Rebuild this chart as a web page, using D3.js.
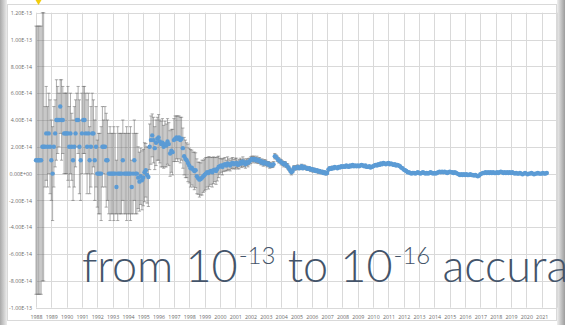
<!DOCTYPE html>
<html>
<head>
<meta charset="utf-8">
<script src="https://cdn.jsdelivr.net/npm/d3@7"></script>
<style>
  html, body { margin: 0; padding: 0; background: #fff; overflow: hidden; }
  svg { display: block; }
</style>
</head>
<body>
<svg id="chart" width="565" height="325"></svg>
<script>
// Monthly series starting January 1988; offsets and uncertainties in units of 1e-14.
const firstYear = 1988;
const gridYears = d3.range(1988, 2023);
const yearLabels = d3.range(1988, 2022).map(String);
const yTickValues = [12, 10, 8, 6, 4, 2, 0, -2, -4, -6, -8, -10];
const yTickLabels = ["1.20E-13", "1.00E-13", "8.00E-14", "6.00E-14", "4.00E-14", "2.00E-14",
  "0.00E+00", "-2.00E-14", "-4.00E-14", "-6.00E-14", "-8.00E-14", "-1.00E-13"];

const monthlyOffset = [
  /*1988*/ 1, 1, 1, 1, 1, 2, 2, 2, 3, 2, 3, 2,
  /*1989*/ 1, 0, 2, 3, 4, 4, 4, 5, 4, 4, 3, 3,
  /*1990*/ 3, 3, 2, 3, 2, 1, 2, 3, 4, 4, 2, 1,
  /*1991*/ 3, 4, 4, 3, 2, 3, 1, 2, 3, 3, 1, 2,
  /*1992*/ 0, 0, 0, 0, 2, 2, 2, 1, 1, 0, 0, 0,
  /*1993*/ 0, 0, 0, -1, 0, 0, 0, 0, 1, 0, 0, 0,
  /*1994*/ 0, 0, 0, -1, 0, 1, 0, 0, -0.3, -0.6, -0.2, -0.5,
  /*1995*/ -0.3, 0.1, 0.25, -0.1, -0.25, 2.0, 2.5, 2.85, 2.5, 1.9, 2.3, 2.6,
  /*1996*/ 2.7, 2.4, 2.2, 2.3, 2.0, 2.2, 2.1, 2.4, 2.2, 1.5, 1.7, 1.6,
  /*1997*/ 2.5, 2.6, 2.7, 2.6, 2.7, 2.5, 2.6, 1.9, 1.3, 1.1, 1.0, 0.8,
  /*1998*/ 0.6, 0.4, 0.45, 0.3, 0.2, 0.25, -0.2, -0.35, -0.45, -0.4, -0.3, -0.2,
  /*1999*/ -0.1, 0.0, 0.1, 0.05, 0.15, 0.2, 0.1, 0.25, 0.3, 0.2, 0.35, 0.5,
  /*2000*/ 0.55, 0.6, 0.5, 0.65, 0.7, 0.6, 0.75, 0.7, 0.6, 0.75, 0.8, 0.7,
  /*2001*/ 0.75, 0.8, 0.65, 0.7, 0.85, 0.75, 0.9, 0.8, 0.7, 0.85, 0.8, 0.9,
  /*2002*/ 1.0, 1.1, 1.05, 1.1, 1.0, 1.05, 0.95, 1.0, 0.85, 0.9, 0.75, 0.85,
  /*2003*/ 0.8, 0.7, 0.75, 0.6, 0.65, 0.6, 0.7, 1.3, 1.25, 1.1, 1.0, 0.95,
  /*2004*/ 0.85, 0.8, 0.7, 0.75, 0.6, 0.55, 0.4, 0.25, 0.1, 0.2, 0.45, 0.4,
  /*2005*/ 0.45, 0.5, 0.4, 0.45, 0.55, 0.4, 0.5, 0.45, 0.4, 0.35, 0.4, 0.3,
  /*2006*/ 0.35, 0.25, 0.3, 0.2, 0.25, 0.15, 0.2, 0.1, 0.15, 0.05, 0.1, 0.0,
  /*2007*/ 0.05, 0.3, 0.4, 0.35, 0.45, 0.4, 0.5, 0.45, 0.4, 0.5, 0.45, 0.55,
  /*2008*/ 0.5, 0.55, 0.5, 0.6, 0.55, 0.5, 0.6, 0.55, 0.65, 0.55, 0.6, 0.55,
  /*2009*/ 0.6, 0.55, 0.6, 0.65, 0.6, 0.55, 0.6, 0.5, 0.5, 0.55, 0.45, 0.5,
  /*2010*/ 0.55, 0.6, 0.65, 0.6, 0.7, 0.65, 0.75, 0.7, 0.8, 0.75, 0.7, 0.75,
  /*2011*/ 0.8, 0.7, 0.75, 0.7, 0.65, 0.7, 0.6, 0.65, 0.6, 0.55, 0.45, 0.4,
  /*2012*/ 0.3, 0.25, 0.2, 0.1, 0.1, 0.05, 0.0, 0.05, 0.05, 0.0, 0.05, 0.1,
  /*2013*/ 0.05, 0.0, 0.05, 0.1, 0.05, 0.0, 0.05, 0.0, 0.05, 0.1, 0.05, 0.0,
  /*2014*/ 0.05, 0.0, 0.05, 0.1, 0.15, 0.1, 0.15, 0.1, 0.15, 0.1, 0.05, 0.1,
  /*2015*/ 0.15, 0.1, 0.1, 0.05, 0.1, 0.05, 0.0, -0.05, -0.1, -0.05, -0.1, -0.05,
  /*2016*/ -0.1, -0.05, -0.1, -0.1, -0.05, -0.1, -0.1, -0.15, -0.1, -0.15, -0.2, -0.15,
  /*2017*/ -0.05, 0.0, 0.05, 0.05, 0.1, 0.05, 0.1, 0.05, 0.1, 0.05, 0.1, 0.05,
  /*2018*/ 0.05, 0.1, 0.05, 0.1, 0.15, 0.1, 0.05, 0.1, 0.05, 0.1, 0.05, 0.1,
  /*2019*/ 0.05, 0.1, 0.05, 0.0, 0.05, 0.0, 0.0, 0.05, 0.0, -0.05, 0.0, 0.05,
  /*2020*/ 0.0, -0.05, 0.0, 0.0, 0.05, 0.0, -0.05, 0.0, 0.0, 0.05, 0.0, 0.0,
  /*2021*/ 0.0, 0.05, 0.0, 0.0, 0.05
];

const monthlyUncertainty = [
  /*1988*/ 10, 10, 10, 10, 10, 10, 10, 3, 3.5, 3, 3, 3.5,
  /*1989*/ 3, 3.5, 3, 2.5, 3, 2.5, 2, 2, 3, 2.5, 3, 3,
  /*1990*/ 3, 3.5, 3, 3, 2.5, 3, 3, 2.5, 2, 2.5, 3.5, 3,
  /*1991*/ 3, 2.5, 2.5, 3, 3.5, 3, 2.5, 3, 3, 2.5, 3, 3,
  /*1992*/ 2.5, 3, 3, 3.5, 3, 2, 3, 3.5, 3, 3, 3.5, 3,
  /*1993*/ 3, 3.5, 3, 2, 3.5, 3, 3, 3, 3, 3, 3, 3.5,
  /*1994*/ 3, 3, 3.5, 2, 3, 3, 3, 3, 2.3, 2.2, 2.1, 2.2,
  /*1995*/ 2.1, 2.2, 2.0, 2.1, 2.2, 1.7, 1.8, 1.6, 1.7, 1.6, 1.7, 1.6,
  /*1996*/ 1.7, 1.6, 1.7, 1.8, 1.6, 1.7, 1.6, 1.7, 1.6, 1.7, 1.6, 1.7,
  /*1997*/ 1.6, 1.7, 1.6, 1.7, 1.6, 1.7, 1.6, 1.5, 1.4, 1.4, 1.3, 1.4,
  /*1998*/ 1.3, 1.4, 1.3, 1.3, 1.4, 1.3, 1.3, 1.2, 1.3, 1.2, 1.3, 1.2,
  /*1999*/ 1.2, 1.2, 1.1, 1.2, 1.1, 1.0, 1.1, 1.0, 0.9, 1.0, 0.9, 0.8,
  /*2000*/ 0.6, 0.5, 0.6, 0.5, 0.5, 0.4, 0.5, 0.4, 0.4, 0.4, 0.4, 0.35,
  /*2001*/ 0.4, 0.35, 0.3, 0.35, 0.3, 0.3, 0.35, 0.3, 0.3, 0.25, 0.3, 0.25,
  /*2002*/ 0.25, 0.2, 0.25, 0.2, 0.2, 0.25, 0.2, 0.2, 0.2, 0.2, 0.2, 0.2,
  /*2003*/ 0.2, 0.2, 0.15, 0.2, 0.2, 0.15, 0.2, 0.2, 0.15, 0.2, 0.2, 0.15,
  /*2004*/ 0.2, 0.15, 0.2, 0.15, 0.15, 0.2, 0.15, 0.15, 0.2, 0.15, 0.15, 0.15,
  /*2005*/ 0.15, 0.15, 0.1, 0.15, 0.15, 0.1, 0.15, 0.1, 0.15, 0.1, 0.1, 0.15,
  /*2006*/ 0.1, 0.15, 0.1, 0.1, 0.1, 0.15, 0.1, 0.1, 0.1, 0.1, 0.1, 0.1,
  /*2007*/ 0.1, 0.1, 0.1, 0.1, 0.1, 0.1, 0.05, 0.05, 0.05, 0.05, 0.05, 0.05,
  /*2008*/ 0.05, 0.05, 0.05, 0.05, 0.05, 0.05, 0.05, 0.05, 0.05, 0.05, 0.05, 0.05,
  /*2009*/ 0.05, 0.05, 0.05, 0.05, 0.05, 0.05, 0.05, 0.05, 0.05, 0.05, 0.05, 0.05,
  /*2010*/ 0.05, 0.05, 0.05, 0.05, 0.05, 0.05, 0.05, 0.05, 0.05, 0.05, 0.05, 0.05,
  /*2011*/ 0.05, 0.05, 0.05, 0.05, 0.05, 0.05, 0.05, 0.05, 0.05, 0.05, 0.05, 0.05,
  /*2012*/ 0.05, 0.05, 0.05, 0.05, 0.05, 0.05, 0.05, 0.05, 0.05, 0.05, 0.05, 0.05,
  /*2013*/ 0.03, 0.03, 0.03, 0.03, 0.03, 0.03, 0.03, 0.03, 0.03, 0.03, 0.03, 0.03,
  /*2014*/ 0.03, 0.03, 0.03, 0.03, 0.03, 0.03, 0.03, 0.03, 0.03, 0.03, 0.03, 0.03,
  /*2015*/ 0.03, 0.03, 0.03, 0.03, 0.03, 0.03, 0.03, 0.03, 0.03, 0.03, 0.03, 0.03,
  /*2016*/ 0.03, 0.03, 0.03, 0.03, 0.03, 0.03, 0.03, 0.03, 0.03, 0.03, 0.03, 0.03,
  /*2017*/ 0.03, 0.03, 0.03, 0.03, 0.03, 0.03, 0.03, 0.03, 0.03, 0.03, 0.03, 0.03,
  /*2018*/ 0.03, 0.03, 0.03, 0.03, 0.03, 0.03, 0.03, 0.03, 0.03, 0.03, 0.03, 0.03,
  /*2019*/ 0.03, 0.03, 0.03, 0.03, 0.03, 0.03, 0.03, 0.03, 0.03, 0.03, 0.03, 0.03,
  /*2020*/ 0.03, 0.03, 0.03, 0.03, 0.03, 0.03, 0.03, 0.03, 0.03, 0.03, 0.03, 0.03,
  /*2021*/ 0.03, 0.03, 0.03, 0.03, 0.03
];

const points = monthlyOffset.map((v, i) => ({
  t: firstYear + i / 12,
  v: v,
  e: monthlyUncertainty[i]
}));

const svg = d3.select("#chart");
const W = 565, H = 325;

const x = d3.scaleLinear().domain([1988, 2022]).range([36, 557]);
const y = d3.scaleLinear().domain([-10, 12]).range([307.7, 12.7]);

// slide background, side shading and the chart frame
const defs = svg.append("defs");
const gl = defs.append("linearGradient").attr("id", "shadeL").attr("x1", "0").attr("x2", "1");
gl.append("stop").attr("offset", "0").attr("stop-color", "#a9a9a9");
gl.append("stop").attr("offset", "1").attr("stop-color", "#ececec");
const gr = defs.append("linearGradient").attr("id", "shadeR").attr("x1", "0").attr("x2", "1");
gr.append("stop").attr("offset", "0").attr("stop-color", "#efefef");
gr.append("stop").attr("offset", "1").attr("stop-color", "#9c9c9c");

svg.append("rect").attr("width", W).attr("height", H).attr("fill", "#fff");
svg.append("rect").attr("x", 0).attr("y", 0).attr("width", 7).attr("height", H).attr("fill", "url(#shadeL)");
svg.append("rect").attr("x", 557).attr("y", 0).attr("width", 8).attr("height", H).attr("fill", "url(#shadeR)");
svg.append("rect").attr("x", 7.5).attr("y", 4.5).attr("width", 549).attr("height", 316)
  .attr("fill", "#fff").attr("stroke", "#d9d9d9").attr("stroke-width", 1);

// gridlines
const grid = svg.append("g").attr("stroke", "#d9d9d9").attr("stroke-width", 1);
grid.selectAll("line.h").data(yTickValues).join("line")
  .attr("x1", x(1988)).attr("x2", x(2022))
  .attr("y1", d => Math.round(y(d)) + 0.5).attr("y2", d => Math.round(y(d)) + 0.5);
grid.selectAll("line.v").data(gridYears).join("line")
  .attr("x1", d => Math.round(x(d)) + 0.5).attr("x2", d => Math.round(x(d)) + 0.5)
  .attr("y1", y(12)).attr("y2", y(-10));

// axes (labels only; lines are the gridlines)
const yAxis = d3.axisLeft(y).tickValues(yTickValues)
  .tickFormat((d, i) => yTickLabels[i]).tickSize(0).tickPadding(3);
svg.append("g").attr("transform", `translate(${x(1988) - 1},0)`).call(yAxis)
  .call(g => g.select(".domain").remove())
  .selectAll("text").attr("fill", "#6b6b6b").style("font", "5.3px 'Open Sans', sans-serif");

const xAxis = d3.axisBottom(x).tickValues(yearLabels.map(Number))
  .tickFormat(d => yearLabels[d - 1988]).tickSize(0).tickPadding(8);
svg.append("g").attr("transform", `translate(0,${y(-10)})`).call(xAxis)
  .call(g => g.select(".domain").remove())
  .selectAll("text").attr("fill", "#6b6b6b").style("font", "5.3px 'Open Sans', sans-serif");

// error bars
const eb = svg.append("g").attr("stroke", "#6a6a6a").attr("stroke-width", 0.55).attr("fill", "none");
eb.selectAll("path").data(points).join("path")
  .attr("d", d => {
    const cx = x(d.t), y1 = y(d.v + d.e), y2 = y(d.v - d.e), c = 1.6;
    return `M${cx},${y1}V${y2}M${cx - c},${y1}H${cx + c}M${cx - c},${y2}H${cx + c}`;
  });

// markers
svg.append("g").attr("fill", "#5b9bd5").selectAll("circle").data(points).join("circle")
  .attr("cx", d => x(d.t)).attr("cy", d => y(d.v)).attr("r", 2.2);

// small pin at the top edge
svg.append("path").attr("d", "M35.5,0H41.5L38.5,5Z").attr("fill", "#f2cc0c");

// slide caption over the chart (runs past the right edge of the slide)
const cap = svg.append("text").attr("x", 82).attr("y", 282)
  .attr("fill", "#44546a")
  .style("font-family", "Lato, 'Open Sans', sans-serif")
  .style("font-weight", 300)
  .style("font-size", "45px");
cap.append("tspan").text("from 10");
cap.append("tspan").attr("dy", -18).attr("dx", 1).style("font-size", "24px").text("-13");
cap.append("tspan").attr("dy", 18).text(" to 10");
cap.append("tspan").attr("dy", -18).attr("dx", 1).style("font-size", "24px").text("-16");
cap.append("tspan").attr("dy", 18).text(" accuracy");
</script>
</body>
</html>
